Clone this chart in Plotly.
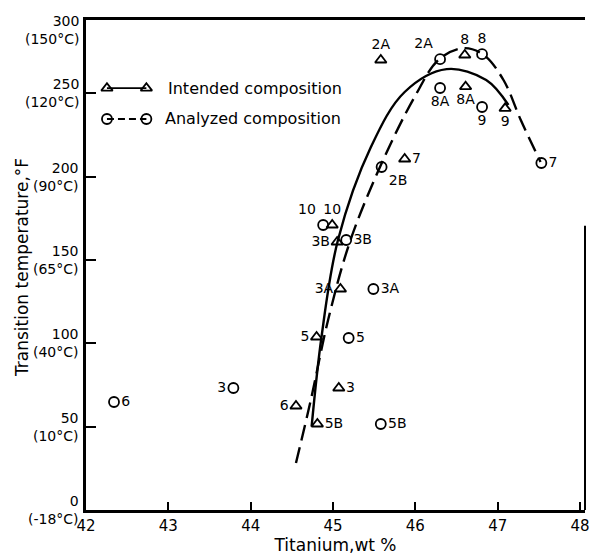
import plotly.graph_objects as go

# Intended composition (triangles)
tri_labels = ["2A", "8", "8A", "9", "7", "10", "3B", "3A", "5", "3", "6", "5B"]
tri_ti = [45.58, 46.60, 46.61, 47.09, 45.87, 44.99, 45.05, 45.09, 44.80, 45.07, 44.55, 44.81]
tri_temp = [270, 273, 254, 241, 210.6, 171, 160.8, 132.6, 103.8, 73.2, 62.4, 51.6]

# Analyzed composition (circles)
circ_labels = ["2A", "8", "8A", "9", "7", "2B", "10", "3B", "3A", "5", "3", "6", "5B"]
circ_ti = [46.30, 46.81, 46.30, 46.81, 47.53, 45.59, 44.88, 45.16, 45.49, 45.19, 43.79, 42.34, 45.58]
circ_temp = [270.5, 273.5, 253.2, 241.8, 208.2, 205.8, 171, 162, 132.6, 103.2, 73.2, 64.8, 51.6]

# Fitted curve through intended compositions (solid)
fit_int_ti = [44.74, 44.86, 45.06, 45.46, 45.87, 46.38, 46.86, 47.13]
fit_int_temp = [50, 103.8, 162, 217.8, 250.8, 264.5, 258, 243]

# Fitted curve through analyzed compositions (dashed)
fit_ana_ti = [44.55, 44.73, 44.94, 45.20, 45.57, 45.99, 46.29, 46.59, 46.83, 47.07, 47.28, 47.52]
fit_ana_temp = [28.2, 66, 114, 160.2, 205.8, 247.8, 270.5, 277.1, 273, 258, 234, 208.8]

# Axis ticks
x_ticks = [42, 43, 44, 45, 46, 47, 48]
y_ticks = [0, 50, 100, 150, 200, 250]
y_top = 300
y_max = 294
y_tick_f = ["0", "50", "100", "150", "200", "250", "300"]
y_tick_c = ["(-18°C)", "(10°C)", "(40°C)", "(65°C)", "(90°C)", "(120°C)", "(150°C)"]

# Label placement beside each marker
tri_pos = ["top center", "top center", "bottom center", "bottom center", "middle right",
           "top center", "middle left", "middle left", "middle left", "middle right",
           "middle left", "middle right"]
circ_pos = ["top left", "top center", "bottom center", "bottom center", "middle right",
            "bottom right", "top left", "middle right", "middle right", "middle right",
            "middle left", "middle right", "middle right"]

FONT = "DejaVu Sans"
INK = "black"

fig = go.Figure()

fig.add_trace(go.Scatter(x=fit_int_ti, y=fit_int_temp, mode="lines",
                         line=dict(color=INK, width=2.4, shape="spline", smoothing=1.0),
                         showlegend=False, hoverinfo="skip"))
fig.add_trace(go.Scatter(x=fit_ana_ti, y=fit_ana_temp, mode="lines",
                         line=dict(color=INK, width=2.4, shape="spline", smoothing=1.0,
                                   dash="16px,7px"),
                         showlegend=False, hoverinfo="skip"))

fig.add_trace(go.Scatter(x=tri_ti, y=tri_temp, mode="markers+text",
                         text=tri_labels, textposition=tri_pos,
                         textfont=dict(family=FONT, size=14, color=INK),
                         marker=dict(symbol="triangle-up-open", size=10, color=INK,
                                     line=dict(width=1.8, color=INK)),
                         showlegend=False))
fig.add_trace(go.Scatter(x=circ_ti, y=circ_temp, mode="markers+text",
                         text=circ_labels, textposition=circ_pos,
                         textfont=dict(family=FONT, size=14, color=INK),
                         marker=dict(symbol="circle-open", size=10, color=INK,
                                     line=dict(width=1.8, color=INK)),
                         showlegend=False))

# Hand-drawn style key on a helper axis spanning the plot area (0..1)
key_x = [0.042, 0.121]
fig.add_trace(go.Scatter(x=key_x, y=[0.861, 0.861], xaxis="x2", yaxis="y2",
                         mode="lines+markers",
                         line=dict(color=INK, width=1.8),
                         marker=dict(symbol="triangle-up-open", size=10, color=INK,
                                     line=dict(width=1.8, color=INK)),
                         showlegend=False, hoverinfo="skip"))
fig.add_trace(go.Scatter(x=key_x, y=[0.798, 0.798], xaxis="x2", yaxis="y2",
                         mode="lines+markers",
                         line=dict(color=INK, width=1.8, dash="7px,4px"),
                         marker=dict(symbol="circle-open", size=10, color=INK,
                                     line=dict(width=1.8, color=INK)),
                         showlegend=False, hoverinfo="skip"))
fig.add_annotation(x=0.160, y=0.861, xref="paper", yref="paper", xanchor="left",
                   yanchor="middle", showarrow=False, text="Intended composition",
                   font=dict(family=FONT, size=16, color=INK))
fig.add_annotation(x=0.155, y=0.798, xref="paper", yref="paper", xanchor="left",
                   yanchor="middle", showarrow=False, text="Analyzed composition",
                   font=dict(family=FONT, size=16, color=INK))

# Two-line °F / °C labels for the temperature axis, centred on each tick
for val, f_txt, c_txt in zip(y_ticks, y_tick_f, y_tick_c):
    fig.add_annotation(x=0, y=val, xref="paper", yref="y", xanchor="right",
                       yanchor="middle", align="right", showarrow=False, xshift=-5,
                       text=f"{f_txt}<br>{c_txt}",
                       font=dict(family=FONT, size=14, color=INK))
# The top label sits against the upper frame
fig.add_annotation(x=0, y=1, xref="paper", yref="paper", xanchor="right",
                   yanchor="top", align="right", showarrow=False, xshift=-5, yshift=9,
                   text=f"{y_tick_f[-1]}<br>{y_tick_c[-1]}",
                   font=dict(family=FONT, size=14, color=INK))

fig.add_annotation(x=-0.128, y=0.494, xref="paper", yref="paper", textangle=-90,
                   xanchor="center", yanchor="middle", showarrow=False,
                   text="Transition temperature,°F",
                   font=dict(family=FONT, size=17, color=INK))

# Right-hand frame segment
fig.add_shape(type="line", xref="paper", yref="paper", x0=1, x1=1, y0=0, y1=0.58,
              line=dict(color=INK, width=2))

fig.update_layout(
    width=594, height=556,
    margin=dict(l=86, r=4, t=20, b=46),
    paper_bgcolor="white", plot_bgcolor="white",
    font=dict(family=FONT, size=14, color=INK),
    xaxis=dict(range=[42, 48.06], tickvals=x_ticks, ticks="inside", ticklen=8,
               tickwidth=1.5, tickcolor=INK, showline=True, linewidth=2.5, linecolor=INK,
               mirror=True, showgrid=False, zeroline=False, ticklabeloverflow="allow",
               tickfont=dict(family=FONT, size=15, color=INK),
               title=dict(text="Titanium,wt %", font=dict(family=FONT, size=17, color=INK),
                          standoff=4)),
    yaxis=dict(range=[0, y_max], tickvals=y_ticks, showticklabels=False, ticks="inside",
               ticklen=10, tickwidth=1.5, tickcolor=INK, showline=True, linewidth=2.5,
               linecolor=INK, showgrid=False, zeroline=False),
    xaxis2=dict(range=[0, 1], overlaying="x", visible=False),
    yaxis2=dict(range=[0, 1], overlaying="y", visible=False),
)

fig.write_html("out.html")
